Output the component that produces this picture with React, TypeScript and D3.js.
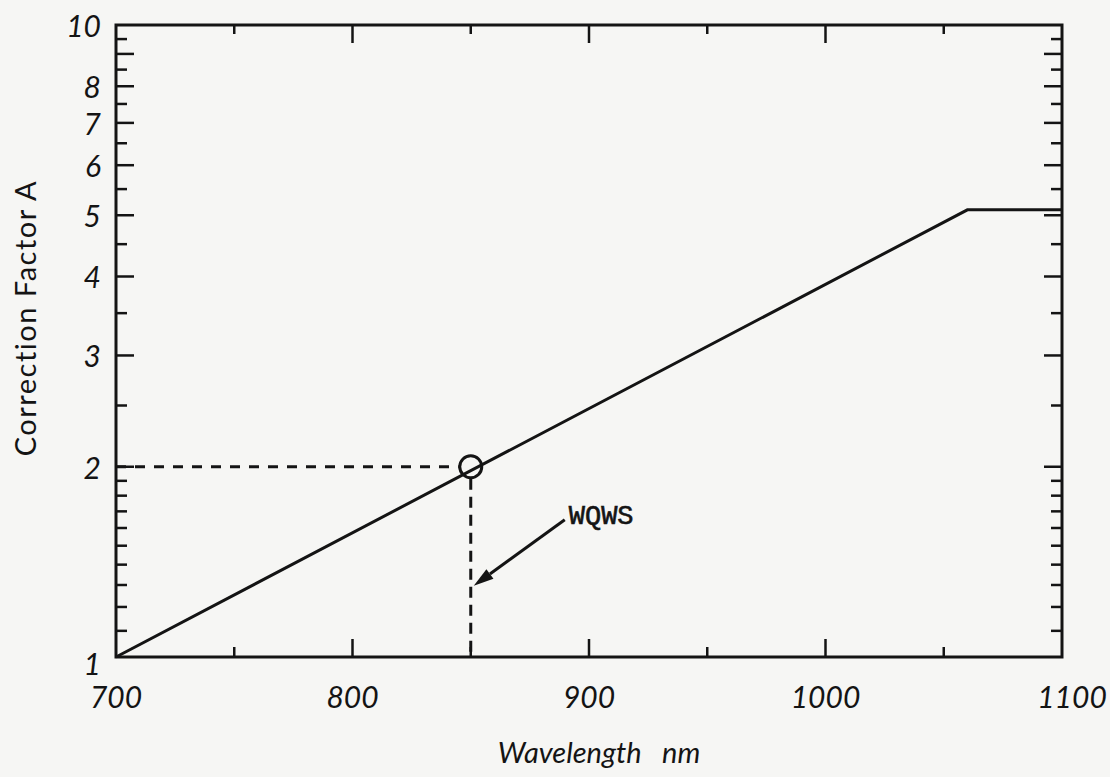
import * as d3 from "d3";
import React from "react";

// Datos (escala logarítmica en Y)
const curveWavelength = [700, 1060, 1100];
const curveFactor = [1, 5.1, 5.1];

const xLabelTicks = [700, 800, 900, 1000, 1100];
const xMajorTicks = [800, 900, 1000];
const xMinorTicks = [750, 850, 950, 1050];

const yLabelTicks = [1, 2, 3, 4, 5, 6, 7, 8, 10];
const yMajorTicks = [2, 3, 4, 5, 6, 7, 8, 9];
const yMinorTicks = [1.1, 1.2, 1.3, 1.4, 1.5, 1.6, 1.7, 1.8, 1.9, 2.5, 3.5, 4.5, 5.5, 6.5, 7.5, 8.5, 9.5];

const markWavelength = 850;
const markFactor = 2;
const markLabel = "WQWS";

const W = 1110;
const H = 777;
const ink = "#141414";
const font = "Lato, 'DejaVu Sans', sans-serif";

function App() {
  const x = d3.scaleLinear().domain([700, 1100]).range([116, 1062]);
  const y = d3.scaleLog().domain([1, 10]).range([657, 25]);

  const line = d3
    .line<number>()
    .x((d) => x(d))
    .y((_, i) => y(curveFactor[i]));

  const mx = x(markWavelength);
  const my = y(markFactor);

  // flecha desde la etiqueta hasta la línea vertical
  const ax0 = mx + 94;
  const ay0 = my + 53;
  const ax1 = mx + 3;
  const ay1 = my + 119;
  const ang = Math.atan2(ay1 - ay0, ax1 - ax0);
  const hl = 20;
  const hw = 6;
  const bx = ax1 - hl * Math.cos(ang);
  const by = ay1 - hl * Math.sin(ang);
  const head = [
    [ax1, ay1],
    [bx + hw * Math.sin(ang), by - hw * Math.cos(ang)],
    [bx - hw * Math.sin(ang), by + hw * Math.cos(ang)],
  ];

  const [x0, x1] = x.range();
  const [y0, y1] = y.range();

  return (
    <svg
      width={W}
      height={H}
      style={{ position: "absolute", left: 0, top: 0, background: "#f6f6f4" }}
    >
      <rect x={0} y={0} width={W} height={H} fill="#f6f6f4" />

      {/* marco */}
      <rect x={x0} y={y1} width={x1 - x0} height={y0 - y1} fill="none" stroke={ink} strokeWidth={3} />

      {/* ticks en x, abajo y arriba */}
      {xMajorTicks.map((t) => (
        <g key={"xM" + t} stroke={ink} strokeWidth={2.5}>
          <line x1={x(t)} x2={x(t)} y1={y0} y2={y0 - 18} />
          <line x1={x(t)} x2={x(t)} y1={y1} y2={y1 + 18} />
        </g>
      ))}
      {xMinorTicks.map((t) => (
        <g key={"xm" + t} stroke={ink} strokeWidth={2.5}>
          <line x1={x(t)} x2={x(t)} y1={y0} y2={y0 - 10} />
          <line x1={x(t)} x2={x(t)} y1={y1} y2={y1 + 9} />
        </g>
      ))}

      {/* ticks en y, izquierda y derecha */}
      {yMajorTicks.map((t) => (
        <g key={"yM" + t} stroke={ink} strokeWidth={2.5}>
          <line x1={x0} x2={x0 + 18} y1={y(t)} y2={y(t)} />
          <line x1={x1} x2={x1 - 18} y1={y(t)} y2={y(t)} />
        </g>
      ))}
      {yMinorTicks.map((t) => (
        <g key={"ym" + t} stroke={ink} strokeWidth={2.5}>
          <line x1={x0} x2={x0 + 11} y1={y(t)} y2={y(t)} />
          <line x1={x1} x2={x1 - 11} y1={y(t)} y2={y(t)} />
        </g>
      ))}

      {/* etiquetas */}
      {xLabelTicks.map((t) => (
        <text
          key={"xl" + t}
          x={x(t) + (t === 1100 ? 10 : 0)}
          y={708}
          textAnchor="middle"
          fontFamily={font}
          fontStyle="italic"
          fontSize={30}
          fill={ink}
        >
          {t}
        </text>
      ))}
      {yLabelTicks.map((t) => (
        <text
          key={"yl" + t}
          x={101}
          y={y(t) + (t === 1 ? 6 : 0)}
          textAnchor="end"
          dominantBaseline="central"
          fontFamily={font}
          fontStyle="italic"
          fontSize={30}
          fill={ink}
        >
          {t}
        </text>
      ))}

      <text
        x={599}
        y={763}
        textAnchor="middle"
        fontFamily={font}
        fontStyle="italic"
        fontSize={29}
        fill={ink}
        style={{ whiteSpace: "pre" }}
      >
        {"Wavelength   nm"}
      </text>
      <text
        transform={`translate(36, 318) rotate(-90)`}
        textAnchor="middle"
        fontFamily={font}
        fontSize={29}
        letterSpacing={1.5}
        fill={ink}
      >
        Correction Factor A
      </text>

      {/* curva */}
      <path d={line(curveWavelength) || ""} fill="none" stroke={ink} strokeWidth={3} />

      {/* líneas punteadas de lectura */}
      <line x1={x0} x2={mx - 12} y1={my} y2={my} stroke={ink} strokeWidth={3} strokeDasharray="10 9" />
      <line x1={mx} x2={mx} y1={my + 12} y2={y0} stroke={ink} strokeWidth={3} strokeDasharray="11 7" />
      <circle cx={mx} cy={my} r={11} fill="none" stroke={ink} strokeWidth={3} />

      {/* flecha y etiqueta */}
      <line x1={ax0} y1={ay0} x2={bx} y2={by} stroke={ink} strokeWidth={3} />
      <polygon points={head.map((p) => p.join(",")).join(" ")} fill={ink} />
      <text
        x={mx + 98}
        y={my + 57}
        fontFamily="'Liberation Mono', 'DejaVu Sans Mono', monospace"
        fontSize={27}
        fill={ink}
        stroke={ink}
        strokeWidth={0.6}
      >
        {markLabel}
      </text>
    </svg>
  );
}

export default App;
